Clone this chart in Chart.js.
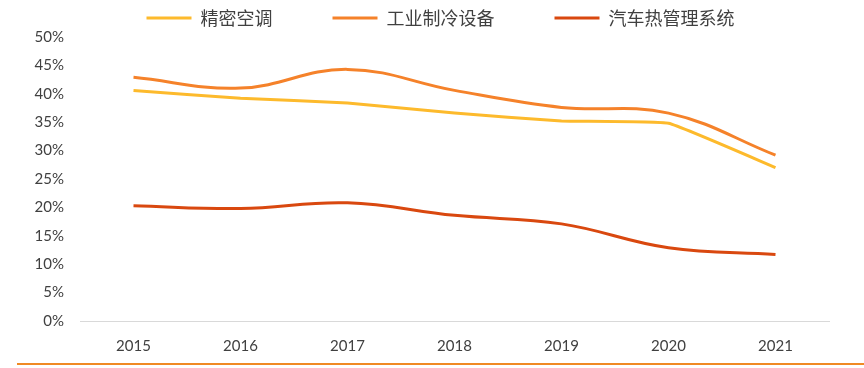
<!DOCTYPE html>
<html>
<head>
<meta charset="utf-8">
<script src="https://cdn.jsdelivr.net/npm/chart.js@4/dist/chart.umd.min.js"></script>
<style>
  html, body { margin: 0; padding: 0; background: #ffffff; }
  #wrap { position: relative; width: 864px; height: 368px; }
  #rule { position: absolute; left: 17px; right: 0; top: 363px; height: 2px; background: #F08A24; }
</style>
</head>
<body>
<div id="wrap">
  <canvas id="c" width="864" height="368"></canvas>
  <div id="rule"></div>
</div>
<script>
const categories = ['2015', '2016', '2017', '2018', '2019', '2020', '2021'];
const seriesNames = ['精密空调', '工业制冷设备', '汽车热管理系统'];
const precisionAC = [40.6, 39.2, 38.4, 36.6, 35.2, 34.8, 27.0];
const industrialRefrig = [42.9, 41.0, 44.3, 40.6, 37.6, 36.6, 29.2];
const autoThermal = [20.3, 19.8, 20.8, 18.6, 17.1, 12.9, 11.7];
const yTicks = [0, 5, 10, 15, 20, 25, 30, 35, 40, 45, 50];

const colors = ['#FDBA2C', '#F5822A', '#D9480F'];
const tickFont = { family: 'Lato, "Liberation Sans", sans-serif', size: 15 };

new Chart(document.getElementById('c'), {
  type: 'line',
  data: {
    labels: categories,
    datasets: [
      { label: seriesNames[0], data: precisionAC, borderColor: colors[0], backgroundColor: colors[0], borderWidth: 3, tension: 0.1, pointRadius: 0 },
      { label: seriesNames[1], data: industrialRefrig, borderColor: colors[1], backgroundColor: colors[1], borderWidth: 3, tension: 0.4, pointRadius: 0 },
      { label: seriesNames[2], data: autoThermal, borderColor: colors[2], backgroundColor: colors[2], borderWidth: 3, tension: 0.4, pointRadius: 0 }
    ]
  },
  options: {
    responsive: false,
    animation: false,
    layout: { padding: { left: 0, right: -17, top: -51, bottom: 0 } },
    plugins: {
      tooltip: { enabled: false },
      legend: {
        position: 'top',
        labels: {
          boxWidth: 45,
          boxHeight: 3,
          padding: 60,
          color: '#404040',
          font: { family: '"Noto Sans CJK SC", sans-serif', size: 18 },
          generateLabels: (chart) => Chart.defaults.plugins.legend.labels.generateLabels(chart).map(it => Object.assign(it, { lineWidth: 0 }))
        }
      }
    },
    scales: {
      x: {
        offset: true,
        grid: { display: false, drawTicks: false },
        border: { display: true, color: '#D9D9D9', width: 1 },
        ticks: { color: '#404040', font: tickFont, padding: 16, maxRotation: 0 },
        afterFit: (s) => { s.height = 47; }
      },
      y: {
        min: 0,
        max: 50,
        grid: { display: false, drawTicks: false },
        border: { display: false },
        afterBuildTicks: (s) => { s.ticks = yTicks.map(v => ({ value: v })); },
        ticks: { color: '#404040', font: tickFont, padding: 16, callback: (v) => v + '%' },
        afterFit: (s) => { s.width = 80; }
      },
      yRight: {
        position: 'right',
        min: 0,
        max: 50,
        grid: { display: false, drawTicks: false },
        border: { display: false },
        ticks: { display: false },
        afterFit: (s) => { s.width = 52; }
      }
    }
  }
});
</script>
</body>
</html>
